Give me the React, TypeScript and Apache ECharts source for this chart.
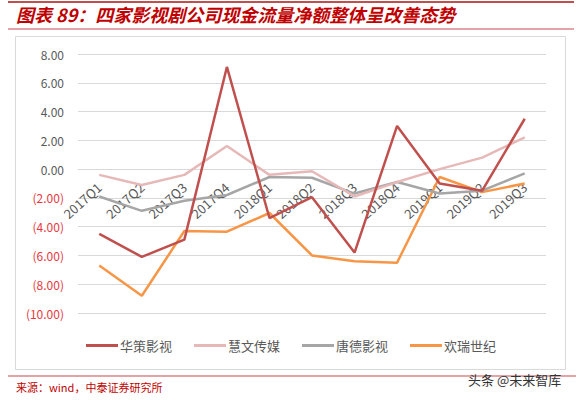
import React, { useEffect, useRef } from "react";
import * as echarts from "echarts";

const categories = ["2017Q1", "2017Q2", "2017Q3", "2017Q4", "2018Q1", "2018Q2", "2018Q3", "2018Q4", "2019Q1", "2019Q2", "2019Q3"];
const huace = [-4.5, -6.1, -4.9, 7.1, -3.4, -1.95, -5.8, 3.0, -1.0, -1.5, 3.5];
const huiwen = [-0.4, -1.1, -0.4, 1.6, -0.4, -0.15, -1.9, -0.9, 0.0, 0.8, 2.2];
const tangde = [-1.9, -2.9, -2.2, -1.8, -0.55, -0.6, -1.7, -0.9, -1.7, -1.5, -0.3];
const huanrui = [-6.7, -8.8, -4.3, -4.35, -3.05, -6.0, -6.4, -6.5, -0.55, -1.6, -1.0];
const seriesNames = ["华策影视", "慧文传媒", "唐德影视", "欢瑞世纪"];
const seriesColors = ["#C0504D", "#E6B9B8", "#A6A6A6", "#F79646"];
const yMin = -10;
const yMax = 8;
const yInterval = 2;

const titleText = "图表 89：四家影视剧公司现金流量净额整体呈改善态势";
const sourceText = "来源：wind，中泰证券研究所";
const watermark = "头条 @未来智库";

const gridTop = 54;
const gridBottom = 87;
const chartH = 400;

export default function App() {
  const ref = useRef<HTMLDivElement>(null);
  useEffect(() => {
    if (!ref.current) return;
    const chart = echarts.init(ref.current, null, { renderer: "svg" });
    const data = [huace, huiwen, tangde, huanrui];
    const plotH = chartH - gridTop - gridBottom;
    const zeroOffset = -(plotH * (0 - yMin)) / (yMax - yMin);
    chart.setOption({
      animation: false,
      backgroundColor: "#ffffff",
      textStyle: { fontFamily: "Noto Sans CJK SC, sans-serif" },
      graphic: [
        { type: "line", shape: { x1: 8, y1: 2, x2: 574, y2: 2 }, style: { stroke: "#C0504D", lineWidth: 2 } },
        { type: "line", shape: { x1: 8, y1: 29, x2: 574, y2: 29 }, style: { stroke: "#D9868A", lineWidth: 1.5 } },
        {
          type: "text", left: 16, top: 5,
          style: { text: titleText, fill: "#C00000", font: "italic bold 18px 'Noto Sans CJK SC'" },
        },
        { type: "rect", shape: { x: 15.5, y: 36.5, width: 550, height: 333 }, style: { fill: "none", stroke: "#D9D9D9", lineWidth: 1 } },
        { type: "line", shape: { x1: 8, y1: 376, x2: 576, y2: 376 }, style: { stroke: "#D9868A", lineWidth: 1.5 } },
        {
          type: "text", left: 16, top: 381,
          style: { text: sourceText, fill: "#C00000", font: "11px 'Noto Sans CJK SC'" },
        },
        {
          type: "text", left: 468, top: 373,
          style: { text: watermark, fill: "#333333", font: "13px 'Noto Sans CJK SC'" },
        },
      ],
      legend: {
        data: seriesNames,
        top: 334,
        left: "center",
        itemWidth: 32,
        itemHeight: 3,
        itemGap: 22,
        icon: "rect",
        textStyle: { color: "#595959", fontSize: 13, padding: [0, 0, 0, -3] },
      },
      grid: { left: 78, right: 36, top: gridTop, bottom: gridBottom },
      xAxis: {
        type: "category",
        data: categories,
        boundaryGap: true,
        position: "bottom",
        offset: zeroOffset,
        axisLine: { onZero: false, lineStyle: { color: "#D9D9D9" } },
        axisTick: { show: false },
        axisLabel: { rotate: 42, color: "#595959", fontSize: 13, margin: 16 },
      },
      yAxis: {
        type: "value",
        min: yMin,
        max: yMax,
        interval: yInterval,
        splitLine: { lineStyle: { color: "#D9D9D9", width: 1 } },
        axisLine: { show: false },
        axisTick: { show: false },
        axisLabel: {
          fontSize: 12,
          margin: 14,
          formatter: (v: number) => (v < 0 ? `{neg|(${Math.abs(v).toFixed(2)})}` : `{pos|${v.toFixed(2)}}`),
          rich: { neg: { color: "#E8383D", fontSize: 12 }, pos: { color: "#595959", fontSize: 12 } },
        },
      },
      series: seriesNames.map((name, i) => ({
        name,
        type: "line",
        data: data[i],
        symbol: "none",
        lineStyle: { color: seriesColors[i], width: 2.5 },
        itemStyle: { color: seriesColors[i] },
        z: 10 - i,
      })),
    });
    return () => chart.dispose();
  }, []);
  return <div ref={ref} style={{ position: "fixed", left: 0, top: 0, width: 582, height: 400 }} />;
}
